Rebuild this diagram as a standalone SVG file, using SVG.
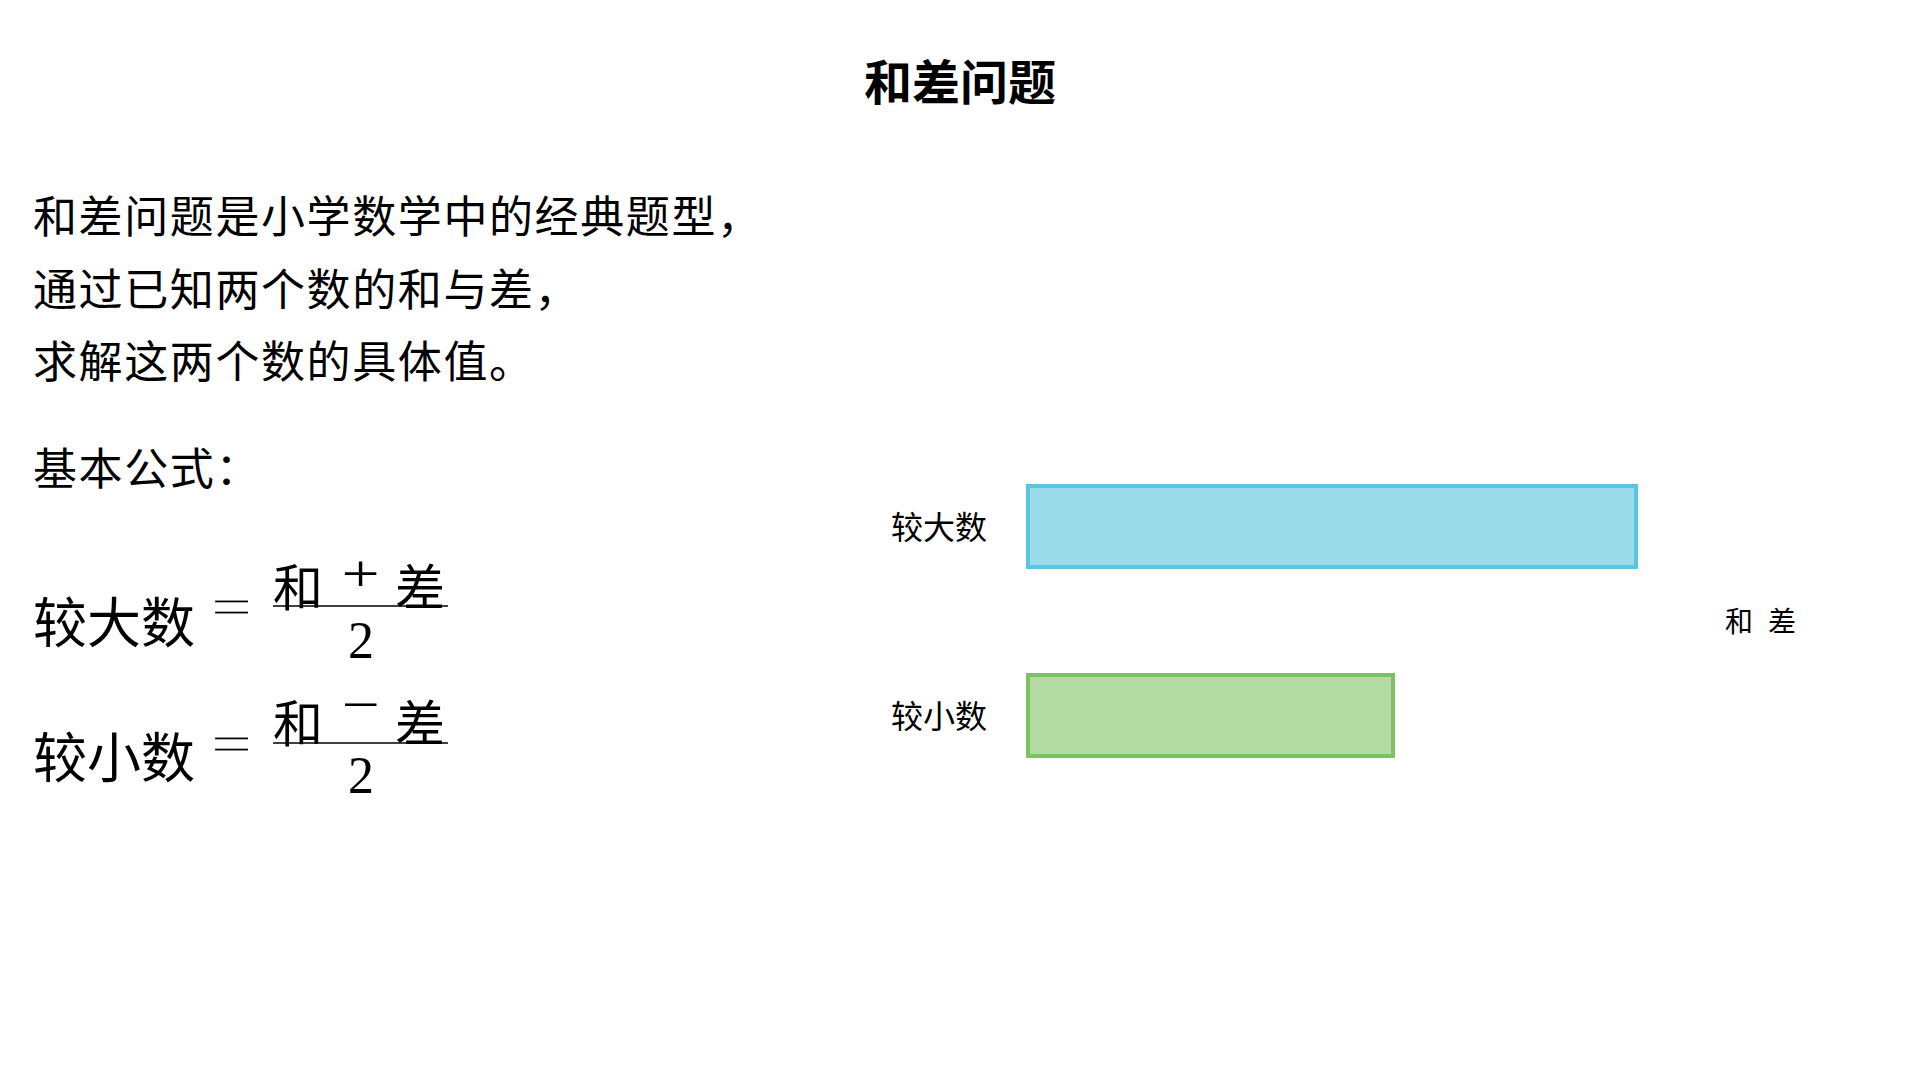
<svg xmlns="http://www.w3.org/2000/svg" width="1920" height="1080" viewBox="0 0 1920 1080">
  <style>
    .cjk { font-family: "Noto Sans CJK SC", "Noto Sans", sans-serif; fill: #000; }
    .title { font-size: 48px; font-weight: bold; }
    .para { font-size: 44px; letter-spacing: 1.6px; }
    .fm { font-size: 54px; }
    .num { font-size: 50px; }
    .lbl { font-size: 32px; }
    .side { font-size: 28px; }
    .serif { font-family: "Liberation Serif", "DejaVu Serif", serif; fill: #000; }
    .thin { stroke: #fff; stroke-width: 0.8px; }
    .bar { stroke: #000; stroke-width: 1.6; }
    .big { fill: #9BDCEA; stroke: #5BC4DE; stroke-width: 4; }
    .small { fill: #B4DBA3; stroke: #7DC164; stroke-width: 4; }
  </style>
  <rect width="1920" height="1080" fill="#fff"/>

  <g id="title">
    <text class="cjk title" x="960" y="100" text-anchor="middle">和差问题</text>
  </g>

  <g id="intro">
    <text class="cjk para" x="33" y="233">和差问题是小学数学中的经典题型，</text>
    <text class="cjk para" x="33" y="306">通过已知两个数的和与差，</text>
    <text class="cjk para" x="33" y="378">求解这两个数的具体值。</text>
    <text class="cjk para" x="33" y="485">基本公式：</text>
  </g>

  <g id="formula-large">
    <text class="cjk fm" x="33" y="643">较大数</text>
    <text class="serif thin" font-size="56" transform="translate(231.5,626) scale(1.3,1)" x="0" y="0" text-anchor="middle">=</text>
    <text class="cjk num" x="273" y="606">和</text>
    <text class="serif" font-size="52" transform="translate(360.5,591) scale(1.3,1)" x="0" y="0" text-anchor="middle">+</text>
    <text class="cjk num" x="395" y="606">差</text>
    <line class="bar" x1="273" y1="606" x2="448" y2="606"/>
    <text class="serif" font-size="52" x="361" y="658" text-anchor="middle">2</text>
  </g>

  <g id="formula-small">
    <text class="cjk fm" x="33" y="778">较小数</text>
    <text class="serif thin" font-size="56" transform="translate(231.5,763) scale(1.3,1)" x="0" y="0" text-anchor="middle">=</text>
    <text class="cjk num" x="273" y="742">和</text>
    <text class="serif" font-size="52" transform="translate(360.5,722) scale(1.3,1)" x="0" y="0" text-anchor="middle">−</text>
    <text class="cjk num" x="395" y="742">差</text>
    <line class="bar" x1="273" y1="743" x2="448" y2="743"/>
    <text class="serif" font-size="52" x="361" y="793" text-anchor="middle">2</text>
  </g>

  <g id="node-larger">
    <text class="cjk lbl" x="891" y="539">较大数</text>
    <rect class="big" x="1028" y="486" width="608" height="81"/>
  </g>

  <g id="node-smaller">
    <text class="cjk lbl" x="891" y="728">较小数</text>
    <rect class="small" x="1028" y="675" width="365" height="81"/>
  </g>

  <g id="side-label">
    <text class="cjk side" x="1725" y="632">和</text>
    <text class="cjk side" x="1768" y="632">差</text>
  </g>

  <g id="connectors"></g>
</svg>
